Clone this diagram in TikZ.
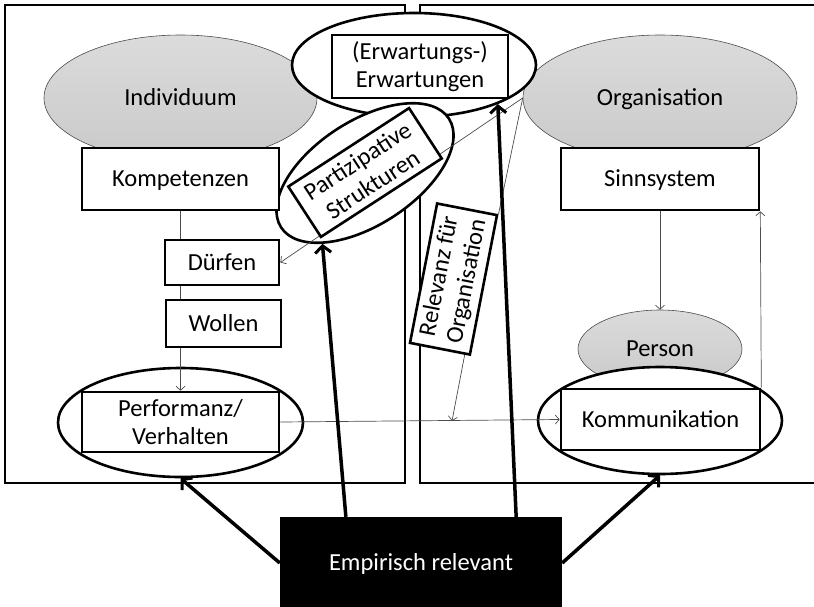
\documentclass[tikz,border=0pt]{standalone}
\usepackage{fontspec}
\setmainfont{Carlito}
\usetikzlibrary{shapes.geometric,arrows.meta,calc}
\pgfdeclarelayer{bg}
\pgfdeclarelayer{mid}
\pgfsetlayers{bg,mid,main}
\begin{document}
\begin{tikzpicture}[x=1pt,y=-1pt,
  every node/.style={font=\fontsize{24.5}{28}\selectfont, align=center, inner sep=0pt},
  one/.style={text height=17pt, text depth=2pt},
  box/.style={rectangle, draw=black, line width=2.6pt, fill=white},
  bigell/.style={ellipse, draw=black, line width=2.6pt, fill=white},
  grayell/.style={ellipse, draw=gray!60!black, line width=0.6pt, top color=gray!28, bottom color=gray!42},
  frame/.style={draw=black, line width=2.6pt},
  thinline/.style={draw=black!70, line width=0.7pt},
  thinarrow/.style={thinline, -{Straight Barb[length=4pt,width=9pt]}},
  bigarrow/.style={draw=black, line width=3.5pt, -{Straight Barb[length=7pt,width=16pt,line width=3pt]}}
]
\useasboundingbox (0,0) rectangle (814,606);

\begin{pgfonlayer}{bg}
  \draw[frame] (5,5) rectangle (405,483);
  \draw[frame] (814,5) -- (420,5) -- (420,483) -- (814,483);
  \node[grayell, one, minimum width=273, minimum height=126] (indiv) at (180.5,98) {Individuum};
  \node[grayell, one, minimum width=274, minimum height=126] (org) at (660,98) {Organisation};
  \node[grayell, one, minimum width=164, minimum height=78] (person) at (660,349) {Person};
  \node[bigell, minimum width=244, minimum height=104] (erwEll) at (414,65) {};
  \node[bigell, rotate=33, minimum width=200, minimum height=104] (partEll) at (365,173) {};
  \node[bigell, minimum width=245, minimum height=109] (perfEll) at (180.5,422.5) {};
  \node[bigell, minimum width=244, minimum height=107] (kommEll) at (660,420.5) {};
\end{pgfonlayer}

\node[box, one, minimum width=197, minimum height=62] (komp) at (180.5,179) {Kompetenzen};
\node[box, one, minimum width=198, minimum height=62] (sinn) at (660,179) {Sinnsystem};
\node[box, minimum width=176, minimum height=63] (erw) at (420,66.5) {(Erwartungs-)\\Erwartungen};
\node[box, one, minimum width=114, minimum height=45] (duerfen) at (222,262.5) {Dürfen};
\node[box, one, minimum width=115, minimum height=47] (wollen) at (223.5,323.5) {Wollen};
\node[box, minimum width=197, minimum height=60] (perf) at (180.5,422) {Performanz/\\Verhalten};
\node[box, one, minimum width=199, minimum height=61] (komm) at (660.5,419.5) {Kommunikation};
\node[box, rotate=33, minimum width=144, minimum height=60] (part) at (365,172.5) {Partizipative\\Strukturen};
\node[box, rotate=79, minimum width=142, minimum height=61] (rel) at (453.5,279) {Relevanz für\\Organisation};
\node[rectangle, one, fill=black, text=white, minimum width=282, minimum height=92] (emp) at (421,563) {Empirisch relevant};

\coordinate (relhit) at (452,421);

\begin{pgfonlayer}{mid}
  \draw[thinarrow] (komp.south) -- (perf.north);
  \draw[thinarrow] (perf.east) -- (komm.west);
  \draw[thinarrow] (sinn.south) -- (person.north);
  \draw[thinarrow] (komm.north east) -- (sinn.south east);
  \draw[thinarrow] (org.west) -- (duerfen.east);
  \draw[thinline] (org.west) -- (rel.south east);
  \draw[thinarrow] ($(rel.west)!0.8!(rel.south west)$) -- (relhit);
\end{pgfonlayer}

\draw[bigarrow] (emp.west) -- (perfEll.south);
\draw[bigarrow] ($(emp.north west)!0.234!(emp.north east)$) -- (partEll.206);
\draw[bigarrow] ($(emp.north west)!0.837!(emp.north east)$) -- (erwEll.335);
\draw[bigarrow] (emp.east) -- (kommEll.south);
\end{tikzpicture}
\end{document}
